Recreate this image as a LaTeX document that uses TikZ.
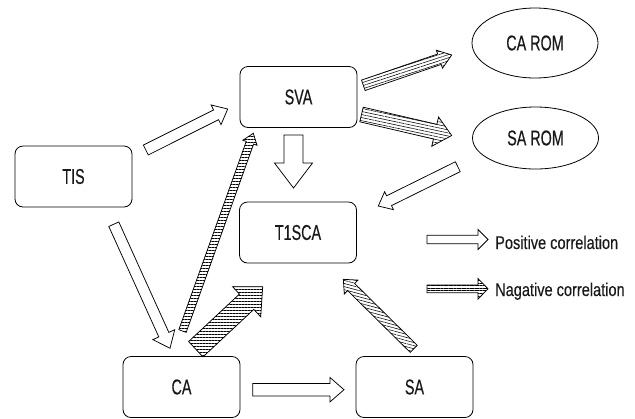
\documentclass[tikz,border=0pt]{standalone}
\usepackage{fontspec}
\usetikzlibrary{calc,shapes.geometric,patterns.meta}
\newfontfamily\boxfont[FakeStretch=0.67,FakeBold=0.35]{Liberation Sans}
\newfontfamily\legfont[FakeStretch=0.79,FakeBold=0.3]{Liberation Sans}
% #1 style, #2 from, #3 to, #4 half shaft, #5 half head, #6 head length (all in bp)
\newcommand\blockarrow[6][]{%
  \coordinate (ba-h) at ($(#3)!#6bp!(#2)$);
  \draw[arrowline,#1] ($(#2)!#4bp!90:(#3)$) -- ($(ba-h)!#4bp!-90:(#2)$) -- ($(ba-h)!#5bp!-90:(#2)$)
    -- (#3) -- ($(ba-h)!#5bp!90:(#2)$) -- ($(ba-h)!#4bp!90:(#2)$) -- ($(#2)!#4bp!-90:(#3)$) -- cycle;
}
\tikzset{
  arrowline/.style={draw=black, line width=0.75bp, line join=miter, fill=white},
  hatch/.style={pattern={Lines[angle=#1, distance=3bp, line width=0.55bp]}},
  box/.style={draw=black, line width=0.8bp, rounded corners=8bp, minimum width=117bp,
    minimum height=61bp, inner sep=0pt, font=\boxfont\fontsize{21.5}{24}\selectfont, text=black!90},
  oval/.style={draw=black, line width=0.8bp, ellipse, inner sep=0pt, minimum width=126bp,
    font=\boxfont\fontsize{21.5}{24}\selectfont, text=black!90},
  legtext/.style={anchor=base west, inner sep=0pt, font=\legfont\fontsize{18.5}{20}\selectfont, text=black!90}
}
\begin{document}
\begin{tikzpicture}[x=1bp,y=-1bp]
\useasboundingbox (0,0) rectangle (635,418);
% nodes
\node[box] (tis) at (73.5,176.5) {TIS};
\node[box] (sva) at (298.5,97) {SVA};
\node[box] (t1sca) at (298,232.5) {T1SCA};
\node[box] (ca) at (181.5,387) {CA};
\node[box] (sa) at (414.5,387) {SA};
\node[oval, minimum height=70bp] (carom) at (535,43) {CA ROM};
\node[oval, minimum height=62bp] (sarom) at (535.5,138) {SA ROM};
% arrow ends
\coordinate (tis-sva-s) at (145.8,150);   \coordinate (tis-sva-e) at (227.7,109);
\coordinate (sva-t1-s) at (293.5,135);    \coordinate (sva-t1-e) at (293.5,188);
\coordinate (ca-sva-s) at (182.5,331);    \coordinate (ca-sva-e) at (253.3,133.3);
\coordinate (tis-ca-s) at (113.8,224.2);  \coordinate (tis-ca-e) at (170,348.3);
\coordinate (ca-t1-s) at (195.8,349.2);   \coordinate (ca-t1-e) at (262.7,286.7);
\coordinate (sva-cr-s) at (363.3,85.3);   \coordinate (sva-cr-e) at (451.7,55);
\coordinate (sva-sr-s) at (361.5,114.5);  \coordinate (sva-sr-e) at (451.7,135.5);
\coordinate (sr-t1-s) at (457.8,166.7);   \coordinate (sr-t1-e) at (378.3,206);
\coordinate (ca-sa-s) at (252.7,389.7);   \coordinate (ca-sa-e) at (344,389.7);
\coordinate (sa-t1-s) at (413.7,348.8);   \coordinate (sa-t1-e) at (343.3,279.3);
\coordinate (lp-s) at (427,239.5);        \coordinate (lp-e) at (488,239.5);
\coordinate (ln-s) at (427,288.8);        \coordinate (ln-e) at (488,288.8);
% connectors
\blockarrow{tis-sva-s}{tis-sva-e}{5.5}{11}{13}
\blockarrow{sva-t1-s}{sva-t1-e}{9.5}{19}{25}
\blockarrow[hatch=0]{ca-sva-s}{ca-sva-e}{3.9}{7.5}{10}
\blockarrow{tis-ca-s}{tis-ca-e}{5.5}{12}{15}
\blockarrow[hatch=0]{ca-t1-s}{ca-t1-e}{10.5}{20.6}{22}
\blockarrow[hatch=18]{sva-cr-s}{sva-cr-e}{5.5}{9.5}{13}
\blockarrow[hatch=-12]{sva-sr-s}{sva-sr-e}{7.5}{15}{17}
\blockarrow{sr-t1-s}{sr-t1-e}{5.5}{10}{12}
\blockarrow{ca-sa-s}{ca-sa-e}{6.3}{12.2}{14}
\blockarrow[hatch=-15]{sa-t1-s}{sa-t1-e}{5}{9.7}{11}
% legend
\blockarrow{lp-s}{lp-e}{4.2}{10}{10}
\blockarrow[pattern={Lines[angle=0, distance=2.6bp, line width=0.55bp]}]{ln-s}{ln-e}{3.9}{10.3}{10}
\node[legtext] (lpt) at (495,249) {Positive correlation};
\node[legtext] (lnt) at (495,296) {Nagative correlation};
\end{tikzpicture}
\end{document}
